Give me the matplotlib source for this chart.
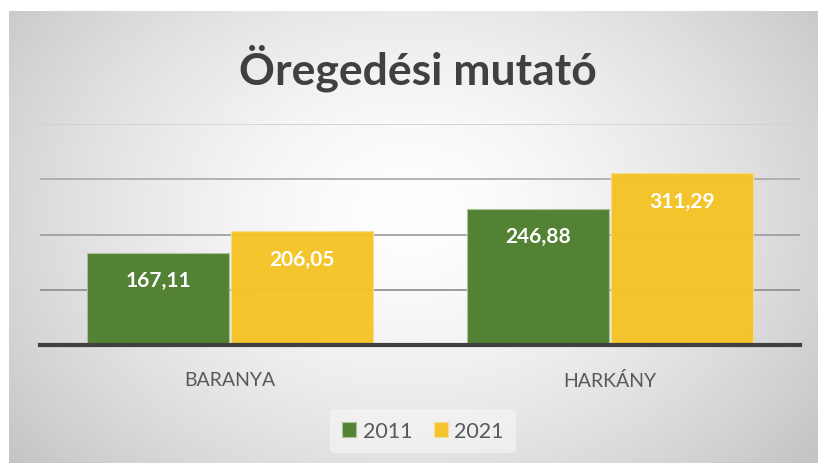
import numpy as np
import matplotlib
matplotlib.use('Agg')
import matplotlib.pyplot as plt

# data
categories = ['BARANYA', 'HARKÁNY']
years = ['2011', '2021']
values_2011 = [167.11, 246.88]
values_2021 = [206.05, 311.29]
title = 'Öregedési mutató'

GREEN = '#548235'
YELLOW = '#f5c325'
TEXT = '#595959'

plt.rcParams['font.family'] = ['Lato', 'DejaVu Sans']

fig = plt.figure(figsize=(8.18, 4.64), dpi=100)
fig.patch.set_facecolor('white')

# background panel with radial gradient
W, H = 818, 464
bg = fig.add_axes([9 / W, 0, (W - 9) / W, (H - 12) / H])
yy, xx = np.mgrid[0:452, 0:809]
cx, cy = 400, 200
r = np.sqrt(((xx - cx) / 430.0) ** 2 + ((yy - cy) / 330.0) ** 2)
shade = 1.0 - 0.23 * np.clip(r, 0, 1.2) ** 1.5 / 1.2 ** 1.5
img = np.dstack([shade, shade, shade])
bg.imshow(img, aspect='auto', extent=[0, 1, 0, 1], origin='upper')
bg.set_axis_off()

# plot area
ax = fig.add_axes([40 / W, (H - 346) / H, 760 / W, 221 / H])
ax.patch.set_alpha(0)
x = np.arange(len(categories))
bw = 0.373
b1 = ax.bar(x - bw / 2 - 0.003, values_2011, bw, color=GREEN, edgecolor='#a9c49a',
            linewidth=0.8, label=years[0], zorder=3)
b2 = ax.bar(x + bw / 2 + 0.003, values_2021, bw, color=YELLOW, edgecolor='#f7dd94',
            linewidth=0.8, label=years[1], zorder=3, alpha=0.96)

for bars in (b1, b2):
    for rect in bars:
        v = rect.get_height()
        ax.annotate(f'{v:.2f}'.replace('.', ','),
                    (rect.get_x() + rect.get_width() / 2, v),
                    xytext=(0, -20), textcoords='offset points',
                    ha='center', va='center', color='white',
                    fontsize=15, fontweight='bold', zorder=4)

ax.set_xlim(-0.5, 1.5)
ax.set_ylim(0, 400)
ax.set_yticks([100, 200, 300, 400])
ax.tick_params(axis='y', left=False, labelleft=False)
ax.tick_params(axis='x', bottom=False, labelsize=14, labelcolor=TEXT, pad=15)
ax.set_xticks(x)
ax.set_xticklabels(categories)
ax.yaxis.grid(True, linewidth=1.2, zorder=1)
for gl, c in zip(ax.yaxis.get_gridlines(), ['#8c8c8c', '#9a9a9a', '#a8a8a8', '#d0d0d0']):
    gl.set_color(c)
for s in ['top', 'right', 'left']:
    ax.spines[s].set_visible(False)
ax.spines['bottom'].set_color('#404040')
ax.spines['bottom'].set_linewidth(3)
ax.spines['bottom'].set_zorder(5)

fig.text(418 / W, 1 - 68 / H, title, ha='center', va='center',
         fontsize=32, fontweight='bold', color='#404040')

leg = fig.legend(handles=[b1, b2], labels=years, loc='center',
                 bbox_to_anchor=(423 / W, 1 - 432 / H), ncol=2, frameon=True,
                 fontsize=15.5, handlelength=0.65, handleheight=0.65,
                 handletextpad=0.3, columnspacing=1.0, borderpad=0.55)
leg.get_frame().set_facecolor('#f7f7f7')
leg.get_frame().set_edgecolor('none')
leg.get_frame().set_alpha(0.6)
for t in leg.get_texts():
    t.set_color(TEXT)

fig.savefig('out.png', dpi=100)
